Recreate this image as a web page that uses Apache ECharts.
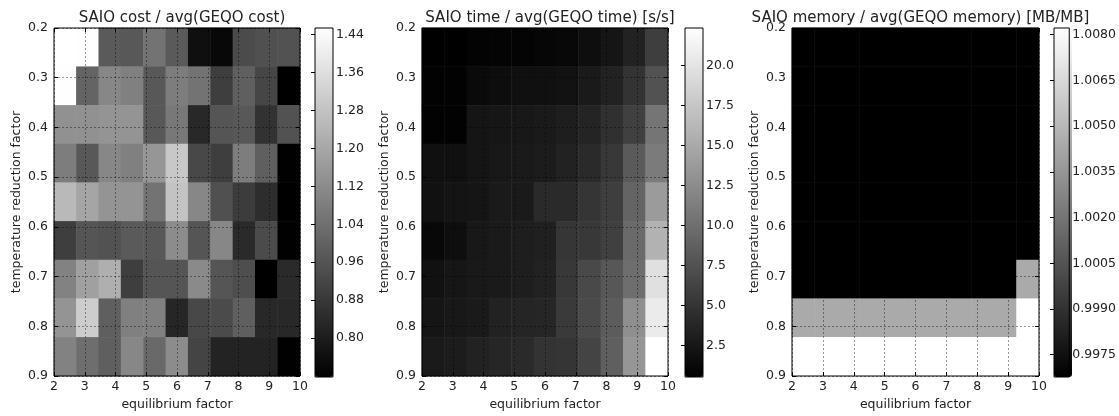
<!DOCTYPE html>
<html>
<head>
<meta charset="utf-8">
<script src="https://cdn.jsdelivr.net/npm/echarts@6/dist/echarts.min.js"></script>
<style>
  html, body { margin: 0; padding: 0; background: #fff; }
  #chart { width: 1119px; height: 416px; }
</style>
</head>
<body>
<div id="chart"></div>
<script>
// hidden band axes: 11 equilibrium columns, 9 temperature rows
const colCats = ["0", "1", "2", "3", "4", "5", "6", "7", "8", "9", "10"];
const rowCats = ["0", "1", "2", "3", "4", "5", "6", "7", "8"];

// SAIO cost / avg(GEQO cost), one array per row (top to bottom)
const costRows = [
  [1.454, 1.450, 0.978, 0.972, 1.050, 0.978, 0.761, 0.741, 0.934, 0.949, 0.955],
  [1.452, 1.007, 1.108, 1.087, 0.972, 1.079, 1.050, 0.897, 0.992, 0.920, 0.718],
  [1.136, 1.136, 1.145, 1.145, 0.972, 1.064, 0.833, 0.963, 0.972, 0.862, 0.955],
  [1.079, 0.972, 1.108, 1.087, 1.151, 1.295, 0.926, 0.897, 1.079, 0.992, 0.720],
  [1.252, 1.194, 1.145, 1.145, 1.050, 1.281, 1.108, 0.949, 0.891, 0.848, 0.719],
  [0.897, 0.963, 0.955, 0.978, 0.972, 1.122, 0.963, 1.108, 0.839, 0.934, 0.721],
  [1.093, 1.180, 1.223, 0.897, 0.963, 0.963, 1.116, 0.963, 0.943, 0.718, 0.839],
  [1.145, 1.310, 0.992, 1.087, 1.087, 0.828, 0.926, 0.934, 0.992, 0.833, 0.833],
  [1.093, 1.035, 0.992, 1.108, 1.021, 1.122, 0.914, 0.819, 0.819, 0.819, 0.722]
];

// SAIO time / avg(GEQO time)
const timeRows = [
  [0.54, 0.56, 0.80, 0.88, 0.88, 1.05, 1.22, 1.74, 2.34, 3.45, 5.85],
  [0.71, 0.71, 1.40, 1.65, 1.91, 1.91, 2.08, 2.76, 3.45, 4.90, 7.56],
  [0.71, 0.72, 2.34, 2.42, 2.59, 2.76, 3.11, 3.62, 4.65, 6.02, 10.55],
  [1.91, 1.91, 2.34, 2.59, 2.76, 2.94, 3.45, 4.13, 5.33, 8.24, 11.06],
  [1.99, 2.25, 2.34, 2.76, 2.76, 4.13, 4.13, 5.07, 5.85, 9.10, 13.80],
  [1.22, 1.74, 2.59, 2.76, 3.11, 3.28, 5.16, 5.33, 6.02, 9.61, 15.77],
  [1.99, 2.42, 2.68, 2.76, 3.11, 3.45, 5.33, 6.79, 7.98, 9.95, 19.71],
  [2.34, 2.59, 2.76, 3.45, 3.71, 3.79, 5.50, 6.87, 8.41, 12.78, 20.65],
  [2.76, 2.94, 3.45, 3.79, 4.13, 4.90, 5.07, 6.36, 8.67, 13.38, 22.36]
];

// SAIO memory / avg(GEQO memory)
const memRows = [
  [0.99677, 0.99677, 0.99677, 0.99677, 0.99677, 0.99677, 0.99677, 0.99677, 0.99677, 0.99677, 0.99677],
  [0.99677, 0.99677, 0.99677, 0.99677, 0.99677, 0.99677, 0.99677, 0.99677, 0.99677, 0.99677, 0.99677],
  [0.99677, 0.99677, 0.99677, 0.99677, 0.99677, 0.99677, 0.99677, 0.99677, 0.99677, 0.99677, 0.99677],
  [0.99677, 0.99677, 0.99677, 0.99677, 0.99677, 0.99677, 0.99677, 0.99677, 0.99677, 0.99677, 0.99677],
  [0.99677, 0.99677, 0.99677, 0.99677, 0.99677, 0.99677, 0.99677, 0.99677, 0.99677, 0.99677, 0.99677],
  [0.99677, 0.99677, 0.99677, 0.99677, 0.99677, 0.99677, 0.99677, 0.99677, 0.99677, 0.99677, 0.99677],
  [0.99677, 0.99677, 0.99677, 0.99677, 0.99677, 0.99677, 0.99677, 0.99677, 0.99677, 0.99677, 1.00441],
  [1.00441, 1.00441, 1.00441, 1.00441, 1.00441, 1.00441, 1.00441, 1.00441, 1.00441, 1.00441, 1.00822],
  [1.00822, 1.00822, 1.00822, 1.00822, 1.00822, 1.00822, 1.00822, 1.00822, 1.00822, 1.00822, 1.00822]
];

// colorbar tick labels
const costTicks = [0.80, 0.88, 0.96, 1.04, 1.12, 1.20, 1.28, 1.36, 1.44];
const timeTicks = [2.5, 5.0, 7.5, 10.0, 12.5, 15.0, 17.5, 20.0];
const memTicks = [0.9975, 0.9990, 1.0005, 1.0020, 1.0035, 1.0050, 1.0065, 1.0080];

const titles = [
  "SAIO cost / avg(GEQO cost)",
  "SAIO time / avg(GEQO time) [s/s]",
  "SAIO memory / avg(GEQO memory) [MB/MB]"
];

const panels = [
  { rows: costRows, ticks: costTicks, dec: 2, left: 54, width: 246, cbLeft: 315 },
  { rows: timeRows, ticks: timeTicks, dec: 1, left: 422, width: 246, cbLeft: 685 },
  { rows: memRows, ticks: memTicks, dec: 4, left: 792, width: 247, cbLeft: 1054 }
];

const TOP = 28, H = 349, CBW = 18;
const txt = "#222";
const font = "DejaVu Sans";
const tickSize = 12.5, nameSize = 12.5;

let grid = [], xAxis = [], yAxis = [], series = [], visualMap = [], title = [];

panels.forEach((p, i) => {
  const flat = p.rows.flat();
  const vmin = Math.min(...flat), vmax = Math.max(...flat);
  const data = [];
  p.rows.forEach((row, r) => row.forEach((v, c) => data.push([c, r, v])));

  // heatmap grid
  grid.push({ left: p.left, top: TOP, width: p.width, height: H, show: true,
    borderColor: "#000", borderWidth: 1, backgroundColor: "transparent", z: 6 });
  // colorbar grid
  grid.push({ left: p.cbLeft, top: TOP, width: CBW, height: H, show: true,
    borderColor: "#000", borderWidth: 1, backgroundColor: "transparent", z: 6 });
  const g = i * 2, gc = i * 2 + 1;
  const base = xAxis.length;

  xAxis.push({ type: "category", gridIndex: g, data: colCats, show: false });
  xAxis.push({ type: "value", gridIndex: g, min: 2, max: 10, interval: 1, position: "bottom", z: 5,
    name: "equilibrium factor", nameLocation: "middle", nameGap: 22,
    nameTextStyle: { color: txt, fontFamily: font, fontSize: nameSize },
    axisLine: { show: false },
    axisTick: { inside: true, length: 4, lineStyle: { color: "#000" } },
    axisLabel: { color: txt, fontFamily: font, fontSize: tickSize, margin: 4 },
    splitLine: { show: true, lineStyle: { color: "rgba(0,0,0,0.4)", type: [2, 2], width: 1 } } });
  xAxis.push({ type: "value", gridIndex: g, min: 2, max: 10, interval: 1, position: "top", z: 5,
    axisLine: { show: false }, axisLabel: { show: false }, splitLine: { show: false },
    axisTick: { inside: true, length: 4, lineStyle: { color: "#000" } } });
  xAxis.push({ type: "value", gridIndex: gc, min: 0, max: 1, show: false });

  yAxis.push({ type: "category", gridIndex: g, data: rowCats, inverse: true, show: false });
  yAxis.push({ type: "value", gridIndex: g, min: 0.2, max: 0.9, interval: 0.1, inverse: true, position: "left", z: 5,
    name: "temperature reduction factor", nameLocation: "middle", nameGap: 31,
    nameTextStyle: { color: txt, fontFamily: font, fontSize: nameSize },
    axisLine: { show: false },
    axisTick: { inside: true, length: 4, lineStyle: { color: "#000" } },
    axisLabel: { color: txt, fontFamily: font, fontSize: tickSize, margin: 6, formatter: v => v.toFixed(1) },
    splitLine: { show: true, lineStyle: { color: "rgba(0,0,0,0.4)", type: [2, 2], width: 1 } } });
  yAxis.push({ type: "value", gridIndex: g, min: 0.2, max: 0.9, interval: 0.1, inverse: true, position: "right", z: 5,
    axisLine: { show: false }, axisLabel: { show: false }, splitLine: { show: false },
    axisTick: { inside: true, length: 4, lineStyle: { color: "#000" } } });
  yAxis.push({ type: "value", gridIndex: gc, min: vmin, max: vmax, position: "right", z: 7,
    axisLine: { show: false }, splitLine: { show: false },
    axisTick: { inside: true, length: 4, customValues: p.ticks, lineStyle: { color: "#000" } },
    axisLabel: { color: txt, fontFamily: font, fontSize: tickSize, margin: 3, customValues: p.ticks,
      formatter: v => Number(v).toFixed(p.dec) } });

  series.push({ type: "heatmap", xAxisIndex: base, yAxisIndex: base, data: data,
    itemStyle: { borderWidth: 0 }, emphasis: { disabled: true } });

  visualMap.push({ type: "continuous", seriesIndex: i, min: vmin, max: vmax, calculable: false,
    orient: "vertical", left: p.cbLeft, top: TOP, itemWidth: CBW, itemHeight: H, padding: 0,
    showLabel: false, text: null, hoverLink: false, z: 1,
    inRange: { color: ["#000000", "#ffffff"] } });

  title.push({ text: titles[i], left: p.left + p.width / 2, top: 6, textAlign: "center",
    textStyle: { color: txt, fontFamily: font, fontSize: 15, fontWeight: "normal" } });
});

const chart = echarts.init(document.getElementById("chart"), null, { renderer: "canvas" });
chart.setOption({
  animation: false,
  backgroundColor: "#fff",
  title: title,
  grid: grid,
  xAxis: xAxis,
  yAxis: yAxis,
  visualMap: visualMap,
  series: series
});
</script>
</body>
</html>
